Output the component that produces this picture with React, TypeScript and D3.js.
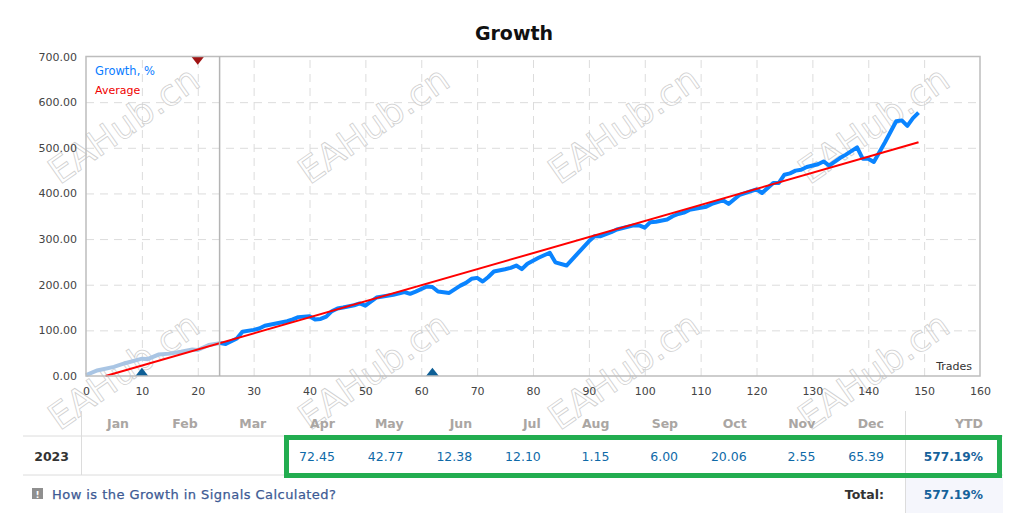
import { useEffect, useRef } from 'react';
import * as d3 from 'd3';

const growthTrades = [0, 2, 5, 7, 10, 11, 13, 15, 17, 19, 20, 22, 24, 25, 26, 27, 28, 30, 31, 32, 34, 36, 37, 38, 40, 41, 42, 43, 44, 45, 46, 48, 49, 50, 52, 55, 57, 58, 59, 61, 62, 63, 65, 67, 68, 69, 70, 71, 72, 73, 75, 76, 77, 78, 79, 81, 83, 84, 86, 90, 91, 92, 94, 95, 98, 99, 100, 101, 102, 104, 105, 106, 107, 108, 111, 112, 114, 115, 117, 120, 121, 123, 124, 125, 126, 127, 128, 129, 131, 132, 133, 135, 136, 138, 139, 140, 141, 143, 145, 146, 147, 148, 149];
const growthValues = [2, 12, 20, 28, 38, 37, 47, 49, 53, 58, 57, 68, 72, 70, 76, 82, 97, 101, 104, 110, 115, 120, 124, 129, 131, 124, 125, 130, 142, 148, 150, 155, 159, 154, 172, 178, 184, 180, 185, 196, 195, 185, 182, 198, 204, 213, 215, 207, 217, 229, 234, 237, 242, 234, 246, 259, 270, 249, 242, 295, 306, 306, 315, 321, 330, 330, 325, 337, 338, 343, 350, 355, 358, 364, 371, 377, 385, 377, 397, 409, 401, 423, 423, 441, 444, 450, 452, 458, 464, 470, 461, 478, 485, 501, 476, 476, 469, 512, 558, 560, 548, 565, 577];
const averageTrades = [3.5, 149];
const averageValues = [0, 512];

const xTicks = d3.range(0, 161, 10);
const yTicks = d3.range(0, 701, 100);
const cutoffTrade = 24;
const minMarkerTrades = [10, 62];
const maxMarkerTrades = [20];

const months = ['Jan', 'Feb', 'Mar', 'Apr', 'May', 'Jun', 'Jul', 'Aug', 'Sep', 'Oct', 'Nov', 'Dec'];
const monthValues = ['', '', '', '72.45', '42.77', '12.38', '12.10', '1.15', '6.00', '20.06', '2.55', '65.39'];
const year = '2023';
const ytd = '577.19%';

const watermarkCols = [125, 375, 625, 875];
const watermarkRows = [127, 373];

const FONT = '"DejaVu Sans", sans-serif';

export default function App() {
  const svgRef = useRef<SVGSVGElement>(null);

  useEffect(() => {
    if (!svgRef.current) return;
    const svg = d3.select(svgRef.current);
    svg.selectAll('*').remove();
    svg.attr('font-family', FONT);

    const left = 86;
    const right = 980;
    const top = 56.5;
    const bottom = 376;

    const x = d3.scaleLinear().domain([0, 160]).range([left, right]);
    const y = d3.scaleLinear().domain([0, 700]).range([bottom, top]);

    svg.append('clipPath')
      .attr('id', 'plot-clip')
      .append('rect')
      .attr('x', left)
      .attr('y', top)
      .attr('width', right - left)
      .attr('height', bottom - top);

    svg.append('text')
      .attr('x', 514)
      .attr('y', 40)
      .attr('text-anchor', 'middle')
      .attr('font-size', 19)
      .attr('font-weight', 'bold')
      .attr('fill', '#111')
      .text('Growth');

    // Grid
    svg.append('g')
      .attr('transform', `translate(0,${bottom})`)
      .call(d3.axisBottom(x).tickValues(xTicks.slice(1, -1)).tickSize(top - bottom).tickFormat(() => ''))
      .call((g) => {
        g.select('.domain').remove();
        g.selectAll('.tick line').attr('stroke', '#dcdcdc').attr('stroke-dasharray', '8,6');
      });
    svg.append('g')
      .attr('transform', `translate(${left},0)`)
      .call(d3.axisLeft(y).tickValues(yTicks.slice(1, -1)).tickSize(left - right).tickFormat(() => ''))
      .call((g) => {
        g.select('.domain').remove();
        g.selectAll('.tick line').attr('stroke', '#dcdcdc').attr('stroke-dasharray', '8,6');
      });

    // Watermarks, under the lines
    watermarkRows.forEach((wy) => {
      watermarkCols.forEach((wx) => {
        svg.append('text')
          .attr('transform', `translate(${wx},${wy}) rotate(-35)`)
          .attr('text-anchor', 'middle')
          .attr('dominant-baseline', 'middle')
          .attr('font-size', 36)
          .attr('fill', 'none')
          .attr('stroke', '#cfcfcf')
          .attr('stroke-width', 0.8)
          .text('EAHub.cn');
      });
    });

    // Tick labels
    svg.append('g')
      .attr('transform', `translate(0,${bottom})`)
      .call(d3.axisBottom(x).tickValues(xTicks).tickSize(0).tickPadding(11))
      .call((g) => {
        g.select('.domain').remove();
        g.selectAll('.tick text').attr('fill', '#444').attr('font-size', 11).attr('font-family', FONT);
      });
    svg.append('g')
      .attr('transform', `translate(${left},0)`)
      .call(d3.axisLeft(y).tickValues(yTicks).tickSize(0).tickPadding(9).tickFormat((d) => Number(d).toFixed(2)))
      .call((g) => {
        g.select('.domain').remove();
        g.selectAll('.tick text').attr('fill', '#444').attr('font-size', 11).attr('font-family', FONT);
      });

    const points = growthTrades.map((t, i) => ({ t, v: growthValues[i] }));
    const line = d3.line<{ t: number; v: number }>().x((d) => x(d.t)).y((d) => y(d.v));

    // Growth line, pale before the signal start
    svg.append('path')
      .datum(points.filter((d) => d.t <= cutoffTrade))
      .attr('fill', 'none')
      .attr('stroke', '#a9c5e4')
      .attr('stroke-width', 4)
      .attr('d', line);
    svg.append('path')
      .datum(points.filter((d) => d.t >= cutoffTrade))
      .attr('fill', 'none')
      .attr('stroke', '#0a84ff')
      .attr('stroke-width', 4)
      .attr('stroke-linejoin', 'round')
      .attr('d', line);

    // Average line
    svg.append('path')
      .datum(averageTrades.map((t, i) => ({ t, v: averageValues[i] })))
      .attr('fill', 'none')
      .attr('stroke', '#ff0000')
      .attr('stroke-width', 2)
      .attr('d', line);

    // Markers, cut by the frame
    const triangle = d3.symbol().type(d3.symbolTriangle).size(90);
    const markers = svg.append('g').attr('clip-path', 'url(#plot-clip)');
    markers.selectAll('path.min-mark')
      .data(minMarkerTrades)
      .join('path')
      .attr('class', 'min-mark')
      .attr('d', triangle)
      .attr('fill', '#0e5f96')
      .attr('transform', (d) => `translate(${x(d)},${bottom}) scale(1.35,1)`);
    markers.selectAll('path.max-mark')
      .data(maxMarkerTrades)
      .join('path')
      .attr('class', 'max-mark')
      .attr('d', triangle)
      .attr('fill', '#a01414')
      .attr('transform', (d) => `translate(${x(d)},${top}) rotate(180) scale(1.35,1)`);

    // Frame
    svg.append('rect')
      .attr('x', left)
      .attr('y', top)
      .attr('width', right - left)
      .attr('height', bottom - top)
      .attr('fill', 'none')
      .attr('stroke', '#bdbdbd')
      .attr('stroke-width', 1.5);
    svg.append('line')
      .attr('x1', x(cutoffTrade) - 0.5)
      .attr('x2', x(cutoffTrade) - 0.5)
      .attr('y1', top)
      .attr('y2', bottom)
      .attr('stroke', '#b4b4b4')
      .attr('stroke-width', 1.5);

    // Legend
    svg.append('text').attr('x', 95).attr('y', 75).attr('font-size', 11.5).attr('fill', '#0a7cff').text('Growth, %');
    svg.append('text').attr('x', 95).attr('y', 94).attr('font-size', 11).attr('fill', '#f00000').text('Average');
    svg.append('text').attr('x', 972).attr('y', 370).attr('text-anchor', 'end').attr('font-size', 11).attr('fill', '#333').text('Trades');

    // Table
    const col = d3.scalePoint<string>().domain(months).range([129, 884]);
    const tableX1 = 23;
    const tableX2 = 1003;
    const sep = '#dcdcdc';
    svg.append('rect').attr('x', 905).attr('y', 477).attr('width', tableX2 - 905).attr('height', 36).attr('fill', '#f5f6fc');
    [436, 475].forEach((ly) => {
      svg.append('line').attr('x1', tableX1).attr('x2', tableX2).attr('y1', ly).attr('y2', ly).attr('stroke', sep);
    });
    svg.append('line').attr('x1', 81.5).attr('x2', 81.5).attr('y1', 411).attr('y2', 475).attr('stroke', sep);
    svg.append('line').attr('x1', 905.5).attr('x2', 905.5).attr('y1', 411).attr('y2', 513).attr('stroke', sep);

    svg.selectAll('text.month')
      .data(months)
      .join('text')
      .attr('class', 'month')
      .attr('x', (d) => col(d) as number)
      .attr('y', 428)
      .attr('text-anchor', 'end')
      .attr('font-size', 12.5)
      .attr('font-weight', 'bold')
      .attr('fill', '#aaa6a3')
      .text((d) => d);
    svg.append('text').attr('x', 983).attr('y', 428).attr('text-anchor', 'end').attr('font-size', 12.5).attr('font-weight', 'bold').attr('fill', '#aaa6a3').text('YTD');

    svg.selectAll('text.value')
      .data(monthValues)
      .join('text')
      .attr('class', 'value')
      .attr('x', (_, i) => col(months[i]) as number)
      .attr('y', 461)
      .attr('text-anchor', 'end')
      .attr('font-size', 12.5)
      .attr('fill', '#0f6aa8')
      .text((d) => d);

    svg.append('text').attr('x', 69).attr('y', 461).attr('text-anchor', 'end').attr('font-size', 12.5).attr('font-weight', 'bold').attr('fill', '#333').text(year);
    svg.append('text').attr('x', 983).attr('y', 461).attr('text-anchor', 'end').attr('font-size', 12.2).attr('font-weight', 'bold').attr('fill', '#16629b').text(ytd);
    svg.append('text').attr('x', 884).attr('y', 499).attr('text-anchor', 'end').attr('font-size', 12.5).attr('font-weight', 'bold').attr('fill', '#333').text('Total:');
    svg.append('text').attr('x', 983).attr('y', 499).attr('text-anchor', 'end').attr('font-size', 12.2).attr('font-weight', 'bold').attr('fill', '#16629b').text(ytd);

    svg.append('rect').attr('x', 32).attr('y', 488).attr('width', 11).attr('height', 11).attr('fill', '#8f8f8f');
    svg.append('text').attr('x', 37.5).attr('y', 497.5).attr('text-anchor', 'middle').attr('font-size', 9).attr('font-weight', 'bold').attr('fill', '#fff').text('!');
    svg.append('text')
      .attr('x', 52)
      .attr('y', 499)
      .attr('font-size', 13)
      .attr('letter-spacing', 0.45)
      .attr('stroke', '#3d5a94')
      .attr('stroke-width', 0.25)
      .attr('fill', '#3d5a94')
      .text('How is the Growth in Signals Calculated?');

    // Highlight box
    svg.append('rect')
      .attr('x', 286.5)
      .attr('y', 437.5)
      .attr('width', 713)
      .attr('height', 38)
      .attr('fill', 'none')
      .attr('stroke', '#22ad50')
      .attr('stroke-width', 5);
  }, []);

  return <svg ref={svgRef} width={1013} height={524} style={{ position: 'absolute', left: 0, top: 0, background: '#fff' }} />;
}
